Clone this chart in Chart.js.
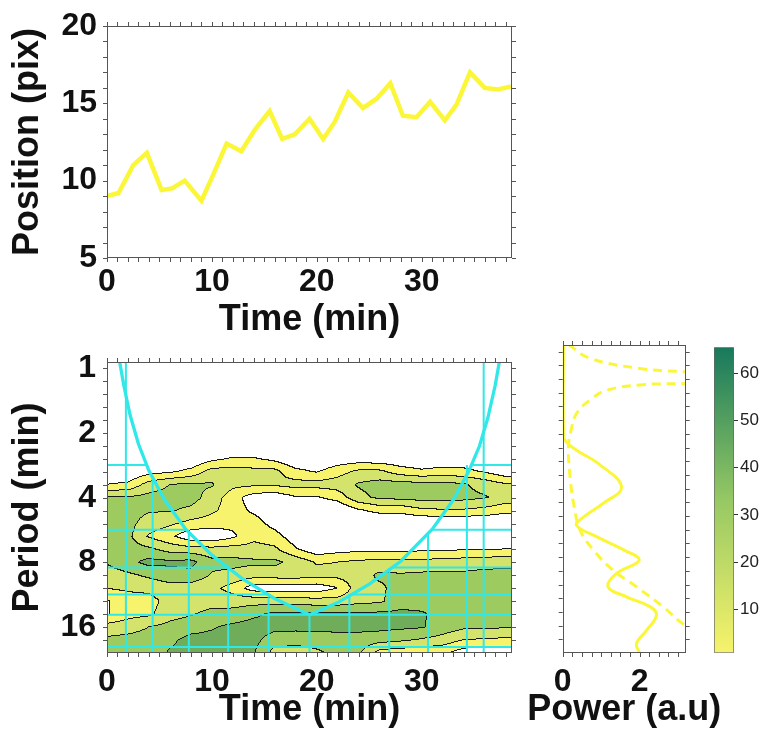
<!DOCTYPE html>
<html>
<head>
<meta charset="utf-8">
<script src="https://cdn.jsdelivr.net/npm/chart.js@4.4.0/dist/chart.umd.min.js"></script>
<style>
  body { margin: 0; background: #fff; }
  #wrap { position: relative; width: 764px; height: 736px; }
  canvas { position: absolute; }
</style>
</head>
<body>
<div id="wrap">
  <canvas id="posChart" width="530" height="340" style="left:0;top:0"></canvas>
  <canvas id="waveChart" width="530" height="401" style="left:0;top:335px"></canvas>
  <canvas id="powerChart" width="244" height="401" style="left:500px;top:335px"></canvas>
  <canvas id="barChart" width="64" height="330" style="left:700px;top:335px"></canvas>
</div>
<script>
// position trace
const timeMin = [0, 1.1, 2.5, 3.8, 5.2, 6.2, 7.4, 9.0, 10.0, 11.4, 12.8, 14.1, 15.5, 16.7, 17.9, 19.3,
  20.6, 21.7, 23.0, 24.4, 25.7, 27.0, 28.2, 29.5, 30.8, 32.2, 33.3, 34.6, 36.0, 37.3, 38.5];
const positionPix = [9.0, 9.2, 11.0, 11.8, 9.4, 9.5, 10.0, 8.7, 10.2, 12.4, 11.9, 13.3, 14.5, 12.7, 13.0, 14.0,
  12.7, 13.8, 15.7, 14.7, 15.3, 16.3, 14.2, 14.1, 15.1, 13.9, 14.9, 17.0, 16.0, 15.9, 16.1];
const timeTicks = [0, 10, 20, 30];
const positionTicks = [5, 10, 15, 20];
const timeMax = 38.6;

// wavelet map: contour level (0 = below first contour)
const waveTimes = [0, 2, 4, 6, 8, 10, 12, 14, 16, 18, 20, 22, 24, 26, 28, 30, 32, 34, 36, 38];
const wavePeriods = [2.3, 2.64, 3.03, 3.48, 4.0, 4.59, 5.28, 6.06, 6.96, 8.0, 9.19, 10.56, 12.13, 13.93, 16.0, 18.38, 21.11];
const waveLevel = [
  [0, 0, 0, 1.0, 3.1, 3.3, 3.3, 3.3, 3.2, 3.1, 2.5, 2.05, 0.9, 0.9, 2.4, 3.2, 3.4],
  [0, 0, 0, 1.2, 3.1, 3.3, 3.3, 3.3, 3.4, 3.7, 2.8, 2.2, 1.5, 1.6, 2.6, 3.3, 3.5],
  [0, 0, 0.6, 2.4, 3.3, 3.1, 2.6, 1.9, 3.2, 4.3, 3.2, 2.3, 1.6, 1.8, 3.0, 3.4, 3.5],
  [0, 0, 0.8, 3.0, 3.4, 3.1, 2.2, 1.2, 2.6, 4.2, 3.6, 2.6, 2.4, 2.6, 3.3, 3.8, 4.1],
  [0, 0, 1.3, 3.1, 3.4, 2.8, 1.7, 0.3, 2.4, 4.3, 3.7, 2.5, 2.4, 2.9, 3.6, 4.3, 4.4],
  [0, 0.7, 2.4, 3.1, 2.6, 2.2, 1.5, 0.2, 2.3, 3.3, 2.9, 2.3, 2.6, 3.3, 3.9, 4.3, 4.4],
  [0, 1.1, 2.4, 2.3, 1.4, 1.5, 1.3, 0.8, 2.4, 3.3, 2.7, 1.6, 2.5, 3.4, 4.2, 4.4, 4.4],
  [0, 1.1, 2.3, 2.2, 0.5, 0.8, 1.5, 1.8, 2.3, 3.2, 2.4, 0.5, 2.6, 3.8, 4.4, 4.3, 4.1],
  [0, 0.7, 2.3, 2.2, 0.3, 0.2, 0.6, 1.4, 2.2, 3.2, 2.5, 0.4, 2.5, 4.2, 4.3, 3.5, 2.6],
  [0, 0, 1.3, 2.4, 0.9, 0, 0, 0.4, 1.1, 2.7, 2.5, 0.5, 2.5, 4.2, 4.3, 3.4, 2.5],
  [0, 0, 0.9, 2.4, 0.9, 0, 0, 0, 0.3, 1.9, 2.4, 0.4, 2.4, 4.2, 4.3, 3.5, 2.8],
  [0, 0.3, 1.6, 2.5, 1.4, 0, 0, 0, 0.6, 2.0, 2.3, 1.0, 2.4, 4.2, 4.3, 3.6, 3.3],
  [0, 0.4, 2.2, 3.1, 2.7, 0.9, 0, 0, 0.7, 2.2, 2.5, 2.6, 2.7, 4.1, 4.3, 3.6, 3.2],
  [0, 0.3, 2.2, 3.4, 3.2, 1.3, 0, 0, 0.7, 2.3, 3.2, 2.8, 2.8, 4.2, 4.3, 3.4, 1.6],
  [0, 0.2, 1.5, 3.4, 3.3, 1.3, 0, 0, 0.6, 2.3, 3.1, 3.4, 3.6, 4.2, 4.2, 3.2, 1.4],
  [0, 0, 1.2, 3.3, 3.4, 1.8, 0, 0, 0.8, 2.3, 3.2, 3.4, 3.6, 4.1, 4.1, 2.9, 1.3],
  [0, 0.2, 1.4, 3.3, 3.4, 1.9, 0, 0, 0.8, 2.4, 3.2, 3.5, 3.6, 3.7, 3.6, 2.6, 1.2],
  [0, 0.2, 1.3, 3.1, 3.3, 1.9, 0, 0, 0.9, 2.5, 3.2, 3.4, 3.5, 3.5, 3.2, 2.0, 0.5],
  [0, 0, 0.9, 2.6, 3.1, 1.7, 0, 0, 0.95, 2.6, 3.3, 3.4, 3.4, 3.4, 3.2, 1.9, 0.3],
  [0, 0, 0.3, 2.1, 2.6, 1.3, 0, 0, 1.0, 2.7, 3.3, 3.4, 3.4, 3.3, 3.1, 1.8, 0.3]
];
const contourSteps = [1, 2, 3, 4];
const levelColors = ['#ffffff', '#f7f36c', '#d3e36b', '#9dcb60', '#70ad5b'];
const periodTicks = [1, 2, 4, 8, 16];
const periodMin = 0.935, periodMax = 21.1;

// cone of influence
const coiTime = [1.2, 1.6, 2.2, 3.0, 4.0, 5.5, 7.5, 10, 13, 16, 19.3, 22, 25, 28, 31, 33, 34.5, 35.5, 36.3, 37.0, 37.4];
const coiPeriod = [0.93, 1.2, 1.65, 2.25, 3.0, 4.1, 5.6, 7.4, 9.6, 11.8, 14.0, 12.3, 10.1, 7.9, 5.6, 4.1, 3.0, 2.3, 1.7, 1.2, 0.93];
const hatchTimes = [1.8, 4.35, 7.8, 11.55, 15.4, 19.3, 23.1, 26.9, 30.6, 34.3, 35.9];
const hatchTopPeriod = [0.93, 3.25, 5.7, 8.5, 11.6, 14.0, 11.2, 8.5, 5.8, 2.82, 0.93];
const hatchPeriods = [2.82, 5.63, 8.44, 11.27, 14.0, 19.8];

// global power spectrum and significance
const powerPeriods = [0.93, 2.2, 2.45, 2.71, 3.1, 3.93, 4.65, 5.32, 5.79, 6.5, 7.45, 8.25, 9.43, 10.8, 11.95, 13.2, 14.4, 16.8, 19.2, 21.1];
const globalPower = [0.02, 0.02, 0.06, 0.36, 0.92, 1.53, 1.05, 0.55, 0.36, 0.88, 1.6, 1.99, 1.4, 1.18, 1.66, 2.27, 2.44, 2.18, 1.92, 2.0];
const sigPeriodA = [0.93, 1.07, 1.185, 1.227, 1.26];
const sigPowerA = [0.15, 0.71, 2.0, 3.2, 4.5];
const sigPeriodB = [1.34, 1.38, 1.40, 1.48, 1.63, 1.87, 2.21, 2.62, 3.67, 4.81, 6.08, 7.45, 9.13, 10.8, 13.2, 16.0, 18.5];
const sigPowerB = [4.5, 3.2, 2.0, 1.14, 0.71, 0.36, 0.22, 0.15, 0.2, 0.3, 0.45, 0.8, 1.31, 1.92, 2.61, 3.2, 4.0];
const powerTicks = [0, 2];
const powerMax = 3.2;

// colour bar
const cbarRange = [0.8, 65.5];
const cbarTicks = [10, 20, 30, 40, 50, 60];

Chart.defaults.font.family = "'Liberation Sans', Arial, sans-serif";
Chart.defaults.color = '#111';
Chart.defaults.animation = false;

const YELLOW = '#fbf738';
const CYAN = '#30e8e8';
const tickFont = { size: 32, weight: 'bold', lineHeight: 1 };
const titleFont = { size: 36, weight: 'bold', lineHeight: 1 };
const noLines = { grid: { display: false, drawTicks: false }, border: { display: false } };

// minor tick positions for the frames
const minorTime = [];
for (let t = 0; t <= 38; t++) minorTime.push(t);
const minorPos = [];
for (let v = 5; v <= 20; v++) minorPos.push(v);
const minorPeriod = [];
for (let l = 0; l <= 4.4; l += 0.2) minorPeriod.push(Math.pow(2, l));
const minorPower = [];
for (let p = 0; p <= 3.2; p += 0.25) minorPower.push(p);

const frameTicks = {
  id: 'frameTicks',
  afterDatasetsDraw(chart, args, opts) {
    const { ctx, chartArea: a, scales: { x, y } } = chart;
    const len = 4;
    ctx.save();
    ctx.strokeStyle = '#555';
    ctx.lineWidth = 1;
    ctx.beginPath();
    (opts.xs || []).forEach(v => {
      const px = Math.round(x.getPixelForValue(v)) + 0.5;
      if (px < a.left - 1 || px > a.right + 1) return;
      ctx.moveTo(px, a.bottom); ctx.lineTo(px, a.bottom + len);
      ctx.moveTo(px, a.top); ctx.lineTo(px, a.top - len);
    });
    (opts.ys || []).forEach(v => {
      const py = Math.round(y.getPixelForValue(v)) + 0.5;
      if (py < a.top - 1 || py > a.bottom + 1) return;
      ctx.moveTo(a.left, py); ctx.lineTo(a.left - len, py);
      ctx.moveTo(a.right, py); ctx.lineTo(a.right + len, py);
    });
    ctx.stroke();
    ctx.strokeRect(Math.round(a.left) + 0.5, Math.round(a.top) + 0.5,
      Math.round(a.right - a.left) - 1, Math.round(a.bottom - a.top) - 1);
    ctx.restore();
  }
};

function fracIndex(arr, v) {
  const n = arr.length - 1;
  if (v <= arr[0]) return 0;
  if (v >= arr[n]) return n;
  let i = 0;
  while (arr[i + 1] < v) i++;
  return i + (v - arr[i]) / (arr[i + 1] - arr[i]);
}

const logPeriods = wavePeriods.map(Math.log);

function levelAt(t, p) {
  const cf = fracIndex(waveTimes, t), rf = fracIndex(logPeriods, Math.log(p));
  const c0 = Math.floor(cf), r0 = Math.floor(rf);
  const c1 = Math.min(c0 + 1, waveTimes.length - 1), r1 = Math.min(r0 + 1, wavePeriods.length - 1);
  const fc = cf - c0, fr = rf - r0;
  const v = (waveLevel[c0][r0] * (1 - fr) + waveLevel[c0][r1] * fr) * (1 - fc) +
            (waveLevel[c1][r0] * (1 - fr) + waveLevel[c1][r1] * fr) * fc;
  let k = 0;
  while (k < contourSteps.length && v >= contourSteps[k]) k++;
  return k;
}

const contourFill = {
  id: 'contourFill',
  beforeDatasetsDraw(chart) {
    const { ctx, chartArea: a, scales: { x, y } } = chart;
    const w = Math.round(a.right - a.left), h = Math.round(a.bottom - a.top);
    const lv = new Uint8Array(w * h);
    for (let j = 0; j < h; j++) {
      const p = y.getValueForPixel(a.top + j + 0.5);
      for (let i = 0; i < w; i++) {
        lv[j * w + i] = levelAt(x.getValueForPixel(a.left + i + 0.5), p);
      }
    }
    const rgb = levelColors.map(c => [1, 3, 5].map(k => parseInt(c.substr(k, 2), 16)));
    const off = document.createElement('canvas');
    off.width = w; off.height = h;
    const octx = off.getContext('2d');
    const img = octx.createImageData(w, h);
    for (let j = 0; j < h; j++) {
      for (let i = 0; i < w; i++) {
        const k = j * w + i, l = lv[k];
        const edge = (i < w - 1 && lv[k + 1] !== l) || (j < h - 1 && lv[k + w] !== l);
        const c = edge ? [25, 25, 25] : rgb[l];
        img.data[k * 4] = c[0]; img.data[k * 4 + 1] = c[1]; img.data[k * 4 + 2] = c[2]; img.data[k * 4 + 3] = 255;
      }
    }
    octx.putImageData(img, 0, 0);
    ctx.drawImage(off, a.left, a.top);
  }
};

function line(points, color, width, dash) {
  return { data: points, showLine: true, borderColor: color, borderWidth: width,
    borderDash: dash || [], pointRadius: 0, fill: false };
}

function coiCross(p, side) {
  const top = coiPeriod.indexOf(Math.max(...coiPeriod));
  const lp = Math.log(p);
  const from = side === 'left' ? 0 : top, to = side === 'left' ? top : coiTime.length - 1;
  for (let i = from; i < to; i++) {
    const a = Math.log(coiPeriod[i]), b = Math.log(coiPeriod[i + 1]);
    if ((lp - a) * (lp - b) <= 0 && a !== b) {
      return coiTime[i] + (coiTime[i + 1] - coiTime[i]) * (lp - a) / (b - a);
    }
  }
  return null;
}

// top: position trace
new Chart(document.getElementById('posChart'), {
  type: 'scatter',
  data: { datasets: [line(timeMin.map((t, i) => ({ x: t, y: positionPix[i] })), YELLOW, 4.5)] },
  options: {
    responsive: false,
    layout: { padding: { top: 23, right: 18 } },
    plugins: { legend: { display: false }, tooltip: { enabled: false },
      frameTicks: { xs: minorTime, ys: minorPos } },
    scales: {
      x: { type: 'linear', min: 0, max: timeMax, ...noLines,
        afterBuildTicks: s => { s.ticks = timeTicks.map(v => ({ value: v })); },
        afterFit: s => { s.height = 82; },
        ticks: { font: tickFont, padding: 8, maxRotation: 0, color: '#111' },
        title: { display: true, text: 'Time (min)', font: titleFont, color: '#111', padding: { top: 0, bottom: 2 } } },
      y: { type: 'linear', min: 5, max: 20, ...noLines,
        afterBuildTicks: s => { s.ticks = positionTicks.map(v => ({ value: v })); },
        afterFit: s => { s.width = 107; },
        ticks: { font: tickFont, padding: 10, color: '#111' },
        title: { display: true, text: 'Position (pix)', font: titleFont, color: '#111', padding: { top: 10, bottom: 0 } } }
    }
  },
  plugins: [frameTicks]
});

// bottom left: wavelet power map
const hatchSets = [];
hatchTimes.forEach((t, i) => {
  hatchSets.push(line([{ x: t, y: hatchTopPeriod[i] }, { x: t, y: periodMax }], CYAN, 2));
});
hatchPeriods.forEach(p => {
  if (p >= Math.max(...coiPeriod)) {
    hatchSets.push(line([{ x: 0, y: p }, { x: timeMax, y: p }], CYAN, 2));
  } else {
    hatchSets.push(line([{ x: 0, y: p }, { x: coiCross(p, 'left'), y: p }], CYAN, 2));
    hatchSets.push(line([{ x: coiCross(p, 'right'), y: p }, { x: timeMax, y: p }], CYAN, 2));
  }
});

new Chart(document.getElementById('waveChart'), {
  type: 'scatter',
  data: { datasets: [line(coiTime.map((t, i) => ({ x: t, y: coiPeriod[i] })), CYAN, 3.3), ...hatchSets] },
  options: {
    responsive: false,
    layout: { padding: { top: 10, right: 18 } },
    plugins: { legend: { display: false }, tooltip: { enabled: false },
      frameTicks: { xs: minorTime, ys: minorPeriod } },
    scales: {
      x: { type: 'linear', min: 0, max: timeMax, ...noLines,
        afterBuildTicks: s => { s.ticks = timeTicks.map(v => ({ value: v })); },
        afterFit: s => { s.height = 83; },
        ticks: { font: tickFont, padding: 13, maxRotation: 0, color: '#111' },
        title: { display: true, text: 'Time (min)', font: titleFont, color: '#111', padding: { top: 0, bottom: 8 } } },
      y: { type: 'logarithmic', reverse: true, min: periodMin, max: periodMax, ...noLines,
        afterBuildTicks: s => { s.ticks = periodTicks.map(v => ({ value: v })); },
        afterFit: s => { s.width = 107; },
        ticks: { font: tickFont, padding: 11, color: '#111', callback: v => String(v) },
        title: { display: true, text: 'Period (min)', font: titleFont, color: '#111', padding: { top: 10, bottom: 0 } } }
    }
  },
  plugins: [contourFill, frameTicks]
});

// bottom middle: global power
const powerTitle = {
  id: 'powerTitle',
  afterDraw(chart) {
    const { ctx, chartArea: a } = chart;
    ctx.save();
    ctx.font = "bold 36px 'Liberation Sans', Arial, sans-serif";
    ctx.fillStyle = '#111';
    ctx.textAlign = 'center';
    ctx.textBaseline = 'middle';
    ctx.fillText('Power (a.u)', (a.left + a.right) / 2, chart.height - 26);
    ctx.restore();
  }
};

new Chart(document.getElementById('powerChart'), {
  type: 'scatter',
  data: { datasets: [
    Object.assign(line(powerPeriods.map((p, i) => ({ x: globalPower[i], y: p })), YELLOW, 3), { tension: 0.4 }),
    Object.assign(line(sigPeriodA.map((p, i) => ({ x: sigPowerA[i], y: p })), YELLOW, 3, [9, 6]), { tension: 0.4 }),
    Object.assign(line(sigPeriodB.map((p, i) => ({ x: sigPowerB[i], y: p })), YELLOW, 3, [9, 6]), { tension: 0.4 })
  ] },
  options: {
    responsive: false,
    layout: { padding: { top: 10, right: 58.3 } },
    plugins: { legend: { display: false }, tooltip: { enabled: false },
      frameTicks: { xs: minorPower, ys: minorPeriod } },
    scales: {
      x: { type: 'linear', min: 0, max: powerMax, ...noLines,
        afterBuildTicks: s => { s.ticks = powerTicks.map(v => ({ value: v })); },
        afterFit: s => { s.height = 83; },
        ticks: { font: tickFont, padding: 13, maxRotation: 0, color: '#111' } },
      y: { type: 'logarithmic', reverse: true, min: periodMin, max: periodMax, ...noLines,
        afterFit: s => { s.width = 62.7; },
        ticks: { display: false } }
    }
  },
  plugins: [frameTicks, powerTitle]
});

// right: colour bar
new Chart(document.getElementById('barChart'), {
  type: 'bar',
  data: { labels: [''], datasets: [{
    data: [cbarRange],
    backgroundColor: c => {
      const a = c.chart.chartArea;
      if (!a) return '#9dcb60';
      const g = c.chart.ctx.createLinearGradient(0, a.bottom, 0, a.top);
      g.addColorStop(0, '#f7f36b');
      g.addColorStop(0.5, '#96c864');
      g.addColorStop(1, '#17795c');
      return g;
    },
    borderColor: '#666', borderWidth: 1, borderSkipped: false,
    barPercentage: 1, categoryPercentage: 1
  }] },
  options: {
    responsive: false,
    layout: { padding: { left: 14, top: 10, bottom: 11 } },
    plugins: { legend: { display: false }, tooltip: { enabled: false } },
    scales: {
      x: { display: false },
      y: { position: 'right', min: cbarRange[0], max: cbarRange[1],
        grid: { drawOnChartArea: false, drawTicks: true, tickLength: 4, color: '#333' },
        border: { display: false },
        afterBuildTicks: s => { s.ticks = cbarTicks.map(v => ({ value: v })); },
        afterFit: s => { s.width = 30; },
        ticks: { font: { size: 17 }, padding: 2, color: '#222' } }
    }
  }
});
</script>
</body>
</html>
